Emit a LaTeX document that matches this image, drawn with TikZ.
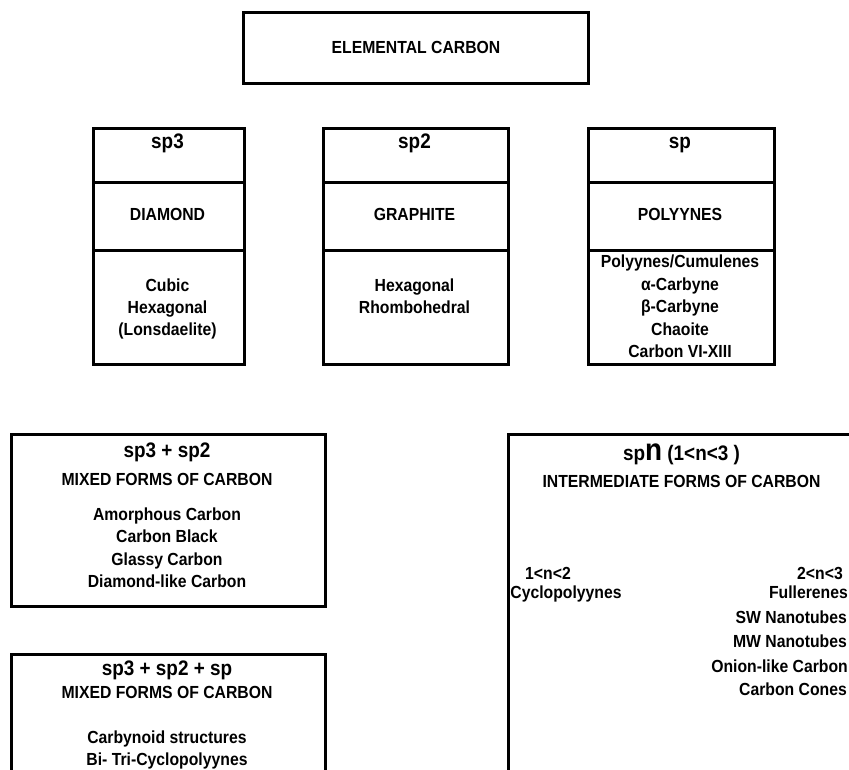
\documentclass[tikz,border=0pt]{standalone}
\usepackage{fontspec}
\setmainfont{Liberation Sans}[FakeStretch=0.9]
\begin{document}
\begin{tikzpicture}[x=1pt,y=-1pt,
  box/.style={draw, line width=2.5pt, inner sep=0pt, anchor=north west},
  lbl/.style={font=\bfseries\fontsize{17.5}{21}\selectfont, inner sep=0pt, anchor=base},
  hdr/.style={font=\bfseries\fontsize{21}{25}\selectfont, inner sep=0pt, anchor=base},
  rlbl/.style={lbl, anchor=base east}]
\clip (0,0) rectangle (849,769);
\fill[white] (0,0) rectangle (849,769);
% top box
\node[box, minimum width=345pt, minimum height=71pt] (elem) at (242,11) {};
\node[lbl] (elemt) at (416,53) {ELEMENTAL CARBON};
% sp3 column
\node[box, minimum width=151pt, minimum height=54pt] (sp3a) at (92,127) {};
\node[box, minimum width=151pt, minimum height=68pt] (sp3b) at (92,181) {};
\node[box, minimum width=151pt, minimum height=114pt] (sp3c) at (92,249) {};
\node[hdr] (sp3h) at (167.5,148) {sp3};
\node[lbl] (sp3n) at (167.5,220) {DIAMOND};
\node[lbl] (sp3l1) at (167.5,291) {Cubic};
\node[lbl] (sp3l2) at (167.5,313) {Hexagonal};
\node[lbl] (sp3l3) at (167.5,335) {(Lonsdaelite)};
% sp2 column
\node[box, minimum width=185pt, minimum height=54pt] (sp2a) at (322,127) {};
\node[box, minimum width=185pt, minimum height=68pt] (sp2b) at (322,181) {};
\node[box, minimum width=185pt, minimum height=114pt] (sp2c) at (322,249) {};
\node[hdr] (sp2h) at (414.5,148) {sp2};
\node[lbl] (sp2n) at (414.5,220) {GRAPHITE};
\node[lbl] (sp2l1) at (414.5,291) {Hexagonal};
\node[lbl] (sp2l2) at (414.5,313) {Rhombohedral};
% sp column
\node[box, minimum width=186pt, minimum height=54pt] (spa) at (587,127) {};
\node[box, minimum width=186pt, minimum height=68pt] (spb) at (587,181) {};
\node[box, minimum width=186pt, minimum height=114pt] (spc) at (587,249) {};
\node[hdr] (sph) at (680,148) {sp};
\node[lbl] (spn) at (680,220) {POLYYNES};
\node[lbl] (spl1) at (680,267) {Polyynes/Cumulenes};
\node[lbl] (spl2) at (680,290) {α-Carbyne};
\node[lbl] (spl3) at (680,312) {β-Carbyne};
\node[lbl] (spl4) at (680,335) {Chaoite};
\node[lbl] (spl5) at (680,357) {Carbon VI-XIII};
% mixed sp3+sp2
\node[box, minimum width=314pt, minimum height=172pt] (mixa) at (10,433) {};
\node[hdr] (mixah) at (167,457) {sp3 + sp2};
\node[lbl] (mixan) at (167,485) {MIXED FORMS OF CARBON};
\node[lbl] (mixal1) at (167,520) {Amorphous Carbon};
\node[lbl] (mixal2) at (167,542) {Carbon Black};
\node[lbl] (mixal3) at (167,565) {Glassy Carbon};
\node[lbl] (mixal4) at (167,587) {Diamond-like Carbon};
% mixed sp3+sp2+sp
\node[box, minimum width=314pt, minimum height=160pt] (mixb) at (10,653) {};
\node[hdr] (mixbh) at (167,675) {sp3 + sp2 + sp};
\node[lbl] (mixbn) at (167,698) {MIXED FORMS OF CARBON};
\node[lbl] (mixbl1) at (167,743) {Carbynoid structures};
\node[lbl] (mixbl2) at (167,765) {Bi- Tri-Cyclopolyynes};
% intermediate
\node[box, minimum width=348pt, minimum height=380pt] (inter) at (507,433) {};
\node[hdr] (interh) at (681.5,460) {sp{\fontsize{31}{31}\selectfont n} (1<n<3 )};
\node[lbl] (intern) at (681.5,487) {INTERMEDIATE FORMS OF CARBON};
\node[lbl] (lefth) at (548,579) {1<n<2};
\node[lbl] (leftl1) at (566,598) {Cyclopolyynes};
\node[lbl] (righth) at (820,579) {2<n<3};
\node[rlbl] (rightl1) at (848,598) {Fullerenes};
\node[rlbl] (rightl2) at (847,623) {SW Nanotubes};
\node[rlbl] (rightl3) at (847,647) {MW Nanotubes};
\node[rlbl] (rightl4) at (848,672) {Onion-like Carbon};
\node[rlbl] (rightl5) at (847,695) {Carbon Cones};
\end{tikzpicture}
\end{document}
